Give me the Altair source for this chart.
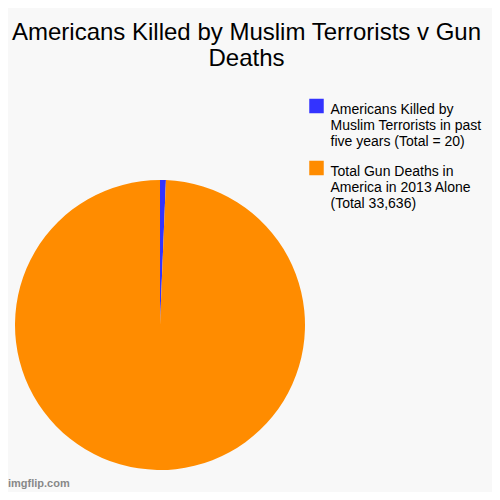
import altair as alt
import pandas as pd

categories = [
    "Americans Killed by Muslim Terrorists in past five years (Total = 20)",
    "Total Gun Deaths in America in 2013 Alone (Total 33,636)",
]
# slice shares (percent of the circle)
shares = [0.65, 99.35]
colors = ["#3333FF", "#FF8C00"]
legend_labels = [
    "Americans Killed by\nMuslim Terrorists in past\nfive years (Total = 20)",
    "Total Gun Deaths in\nAmerica in 2013 Alone\n(Total 33,636)",
]
title_text = "Americans Killed by Muslim Terrorists v Gun\nDeaths"

df = pd.DataFrame({
    "category": categories,
    "share": shares,
    "order": [0, 1],
    "label": legend_labels,
})

color_scale = alt.Scale(domain=categories, range=colors)

pie = alt.Chart(df).mark_arc(outerRadius=145).encode(
    theta=alt.Theta("share:Q", stack=True),
    order=alt.Order("order:Q"),
    color=alt.Color("category:N", scale=color_scale, legend=None),
    x=alt.value(152),
    y=alt.value(317),
)

swatch = alt.Chart(df).mark_square(size=210, opacity=1).encode(
    x=alt.value(308.5),
    y=alt.Y("category:N", scale=alt.Scale(type="point", domain=categories, range=[98, 160], padding=0), axis=None),
    color=alt.Color("category:N", scale=color_scale, legend=None),
)

legend_text = alt.Chart(df).mark_text(
    align="left", baseline="alphabetic", font="Liberation Sans", fontSize=14,
    lineBreak="\n", lineHeight=16, color="#000000",
).encode(
    x=alt.value(322.5),
    y=alt.Y("category:N", scale=alt.Scale(type="point", domain=categories, range=[106, 168], padding=0), axis=None),
    text="label:N",
)

title = alt.Chart(pd.DataFrame({"t": [title_text]})).mark_text(
    align="center", baseline="alphabetic", font="Liberation Sans", fontSize=24,
    lineBreak="\n", lineHeight=26, color="#000000",
).encode(x=alt.value(238.5), y=alt.value(32), text="t:N")

wm = alt.Chart(pd.DataFrame({"t": ["imgflip.com"]})).mark_text(
    align="left", baseline="alphabetic", font="Liberation Sans", fontSize=11,
    fontWeight="bold", color="#888888",
).encode(x=alt.value(0), y=alt.value(479), text="t:N")

chart = alt.layer(pie, swatch, legend_text, title, wm).resolve_scale(y="independent").properties(
    width=484,
    height=484,
    autosize=alt.AutoSizeParams(type="none"),
    padding=0,
    background="#F8F8F8",
).configure_view(stroke=None)

chart.save("out.html", embed_options={"renderer": "svg", "actions": False})
